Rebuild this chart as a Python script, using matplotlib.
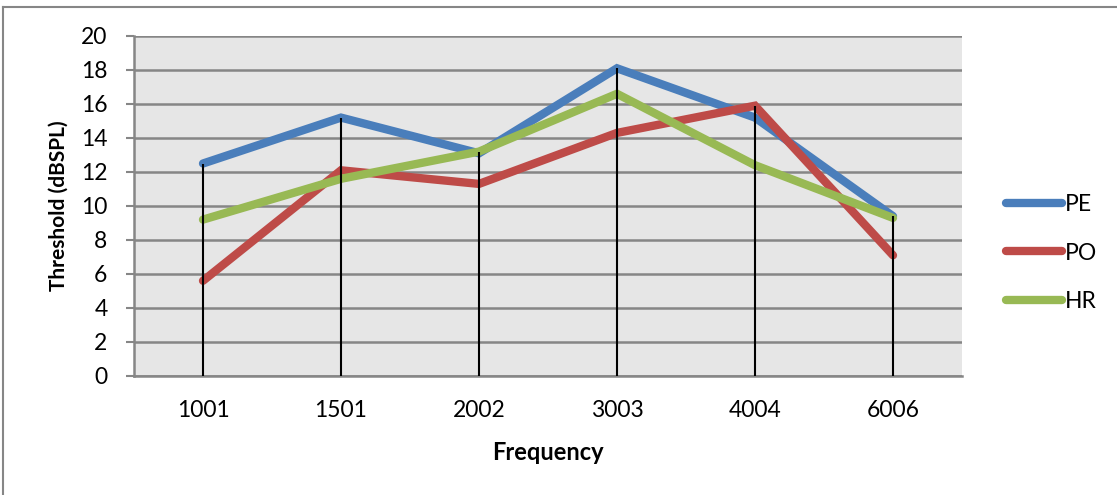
import numpy as np
import matplotlib
matplotlib.use("Agg")
import matplotlib.pyplot as plt
from matplotlib.lines import Line2D

plt.rcParams['font.family'] = ['Lato', 'DejaVu Sans']

# thresholds per test frequency
freqs = ['1001', '1501', '2002', '3003', '4004', '6006']
pe = [12.5, 15.2, 13.1, 18.1, 15.2, 9.4]
po = [5.6, 12.1, 11.3, 14.3, 15.9, 7.1]
hr = [9.2, 11.6, 13.2, 16.6, 12.4, 9.3]

W, H = 1117, 495
fig = plt.figure(figsize=(W / 100, H / 100), dpi=100)
ax = fig.add_axes([134 / W, (H - 376) / H, 828 / W, 340 / H])
ax.set_facecolor('#E6E6E6')

x = np.arange(len(freqs))

# drop lines from the highest series down to the axis
tops = np.max([pe, po, hr], axis=0)
ax.vlines(x, 0, tops, colors='black', linewidth=1.5, zorder=4)

for vals, col, name in [(pe, '#4A7EBB', 'PE'), (po, '#BE4B48', 'PO'), (hr, '#98B954', 'HR')]:
    ax.plot(x, vals, color=col, linewidth=6, solid_capstyle='round',
            solid_joinstyle='miter', label=name, zorder=3)

ax.set_xlim(-0.5, len(freqs) - 0.5)
ax.set_ylim(0, 20)
ax.set_yticks(range(0, 21, 2))
ax.set_xticks(x)
ax.set_xticklabels(freqs)
ax.yaxis.grid(True, color='#868686', linewidth=1.8)
ax.set_axisbelow(True)
for s in ['top', 'right']:
    ax.spines[s].set_visible(False)
for s in ['left', 'bottom']:
    ax.spines[s].set_color('#868686')
    ax.spines[s].set_linewidth(1.8)
ax.tick_params(axis='y', length=6, width=1.5, color='#868686', labelsize=16.5, pad=13)
ax.tick_params(axis='x', length=0, labelsize=16.5, pad=17)

ax.set_xlabel('Frequency', fontsize=17, fontweight='bold', labelpad=15)
ax.set_ylabel('Threshold (dBSPL)', fontsize=15, fontweight='bold', labelpad=9)

ax.legend(loc='center left', bbox_to_anchor=(985 / W, (H - 253) / H),
          bbox_transform=fig.transFigure, frameon=False, fontsize=16.5,
          handlelength=2.45, handletextpad=0.15, labelspacing=1.2)

# chart area border
fig.add_artist(Line2D([3 / W, 1], [(H - 7) / H] * 2, color='#868686', linewidth=1.5))
fig.add_artist(Line2D([3 / W] * 2, [0, (H - 7) / H], color='#868686', linewidth=1.5))

fig.savefig('out.png', dpi=100)
